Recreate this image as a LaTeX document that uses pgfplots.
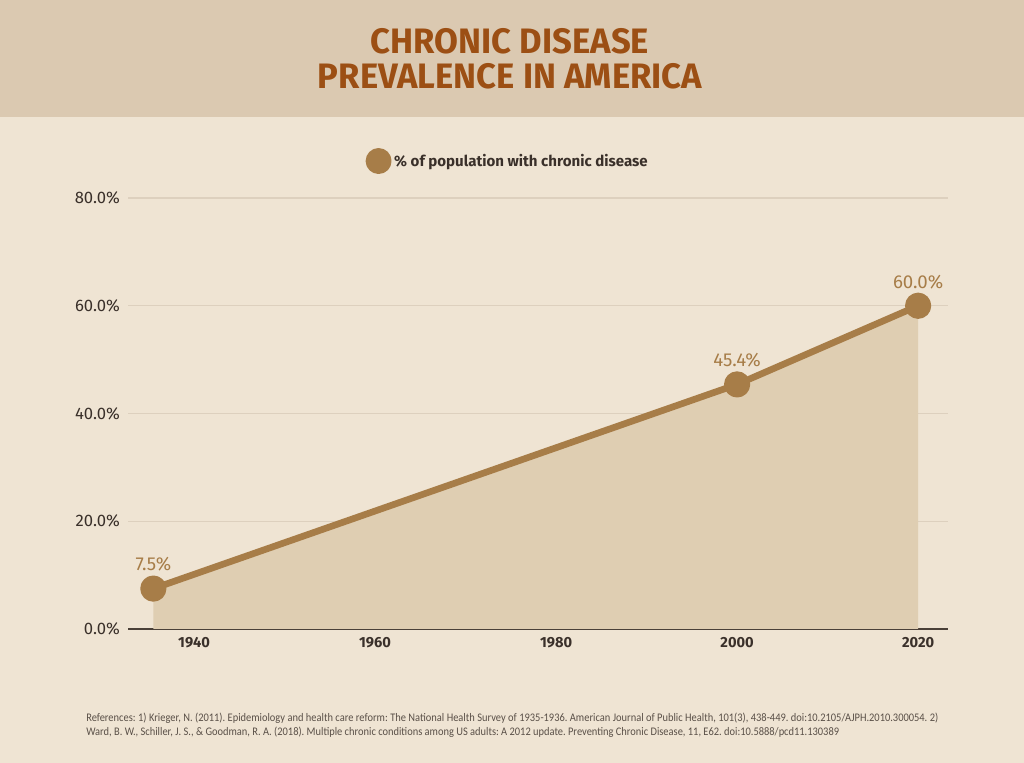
\documentclass[border=0pt]{standalone}
\usepackage{fontspec}
\setmainfont{Fira Sans}
\newfontfamily\titlefont[FakeStretch=0.98]{Fira Sans}
\newfontfamily\reffont[FakeStretch=0.9]{Carlito}
\usepackage{pgfplots}
\pgfplotsset{compat=1.18}
\definecolor{bgcol}{HTML}{EFE4D3}
\definecolor{bannercol}{HTML}{DBC9B1}
\definecolor{titlecol}{HTML}{9C4F14}
\definecolor{linecol}{HTML}{A77D48}
\definecolor{fillcol}{HTML}{DFCEB2}
\definecolor{gridcol}{HTML}{DDD0BE}
\definecolor{axiscol}{HTML}{4A4038}
\definecolor{textcol}{HTML}{3A302A}
\definecolor{refcol}{HTML}{5A5048}
\begin{document}
\frenchspacing
\begin{tikzpicture}
\fill[bgcol] (0,0) rectangle (768pt,572.25pt);
\fill[bannercol] (0,484.5pt) rectangle (768pt,572.25pt);
\node[font=\titlefont\bfseries\fontsize{26.5}{28}\selectfont, text=titlecol, anchor=base] at (382.5pt,532pt) {CHRONIC DISEASE};
\node[font=\titlefont\bfseries\fontsize{26.5}{28}\selectfont, text=titlecol, anchor=base] at (382.5pt,505.75pt) {PREVALENCE IN AMERICA};
\begin{axis}[
  at={(96pt,100.5pt)}, anchor=south west,
  scale only axis, width=615pt, height=323.25pt,
  xmin=1932.7, xmax=2023.3, ymin=0, ymax=80,
  axis lines*=left,
  x axis line style={draw=axiscol, line width=1.2pt},
  y axis line style={draw=none},
  major tick length=0pt,
  xtick={1940,1960,1980,2000,2020},
  ytick={0,20,40,60,80},
  ymajorgrids, grid style={draw=gridcol, line width=0.9pt},
  /pgf/number format/assume math mode=true,
  /pgf/number format/set thousands separator={},
  yticklabel={\pgfmathprintnumber[fixed,fixed zerofill,precision=1]{\tick}\%},
  xticklabel style={font=\bfseries\fontsize{11}{13}\selectfont, text=textcol, yshift=-3pt},
  yticklabel style={font=\fontsize{12.5}{14}\selectfont, text=textcol, xshift=-2.5pt},
  legend style={at={(axis description cs:0.2895,1.0858)}, anchor=west, draw=none, fill=none,
    font=\bfseries\fontsize{11.3}{13}\selectfont, text=textcol, inner sep=0pt},
  legend cell align=left,
  clip=false,
]
\addplot[draw=none, fill=fillcol, forget plot] coordinates {(1935.5,7.5) (2000,45.4) (2020,60)} \closedcycle;
\addplot[color=linecol, line width=5pt, line join=round, mark=*, mark size=7.3pt,
  mark options={fill=linecol, draw=none},
  legend image code/.code={\fill[linecol] (7.2pt,0pt) circle (7.2pt);},
  point meta=explicit,
  nodes near coords={\pgfmathprintnumber[fixed,fixed zerofill,precision=1]{\pgfplotspointmeta}\%},
  every node near coord/.append style={font=\fontsize{14}{16}\selectfont, text=linecol, anchor=center, yshift=18pt}]
  coordinates {(1935.5,7.5) [7.5] (2000,45.4) [45.4] (2020,60) [60]};
\addlegendentry{\% of population with chronic disease}
\end{axis}
\node[anchor=north west, inner sep=0pt, text width=639pt, align=justify, font=\reffont\fontsize{8.7}{10.5}\selectfont, text=refcol] at (64.5pt,37.5pt)
{References: 1) Krieger, N. (2011). Epidemiology and health care reform: The National Health Survey of 1935-1936. American Journal of Public Health, 101(3), 438-449. doi:10.2105/AJPH.2010.300054. 2)\linebreak Ward, B. W., Schiller, J. S., \& Goodman, R. A. (2018). Multiple chronic conditions among US adults: A 2012 update. Preventing Chronic Disease, 11, E62. doi:10.5888/pcd11.130389};
\pgfresetboundingbox
\useasboundingbox (0,0) rectangle (768pt,572.25pt);
\end{tikzpicture}
\end{document}
